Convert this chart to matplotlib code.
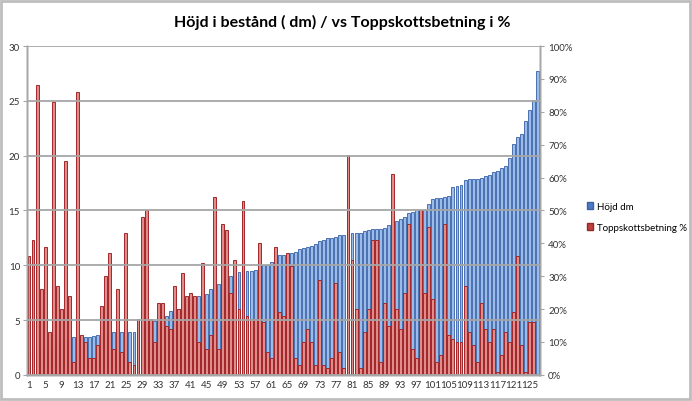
import matplotlib
matplotlib.use("Agg")
import matplotlib.pyplot as plt
from matplotlib.patches import Rectangle, Patch
from matplotlib.ticker import PercentFormatter

plt.rcParams['font.family'] = ['Lato', 'DejaVu Sans']

# löpnummer 1..127 (sorterat efter höjd)
lopnr = list(range(1, 128))

# Höjd i bestånd (dm), vänster axel
hojd_dm = [
    2.2, 2.2, 2.3, 2.3, 2.4, 2.5, 2.6, 3.0, 3.1, 3.2,
    3.3, 3.45, 3.5, 3.5, 3.5, 3.5, 3.55, 3.6, 3.7, 3.7,
    3.8, 3.9, 3.9, 3.95, 3.95, 3.95, 3.95, 4.2, 4.5, 4.8,
    4.95, 4.95, 5.0, 5.1, 5.4, 5.8, 5.9, 6.0, 6.3, 6.5,
    6.7, 7.0, 7.2, 7.3, 7.4, 7.8, 8.0, 8.3, 8.6, 8.7,
    9.05, 9.1, 9.4, 9.4, 9.45, 9.45, 9.6, 9.8, 10.0, 10.0,
    10.3, 10.5, 10.9, 10.9, 11.0, 11.1, 11.2, 11.5, 11.6, 11.7,
    11.8, 11.9, 12.2, 12.3, 12.5, 12.5, 12.6, 12.8, 12.8, 12.8,
    12.9, 12.9, 12.9, 13.1, 13.2, 13.3, 13.3, 13.3, 13.4, 13.7,
    14.0, 14.0, 14.2, 14.4, 14.8, 14.9, 15.0, 15.0, 15.0, 15.6,
    16.0, 16.1, 16.1, 16.2, 16.3, 17.1, 17.2, 17.3, 17.8, 17.9,
    17.9, 17.9, 18.0, 18.1, 18.2, 18.5, 18.6, 18.9, 19.1, 19.8,
    21.1, 21.7, 22.0, 23.2, 24.2, 25.1, 27.7,
]

# Toppskottsbetning (%), höger axel
betning = [
    36, 41, 88, 26, 39, 13, 83, 27, 20, 65,
    24, 4, 86, 12, 10, 5, 5, 9, 21, 30,
    37, 8, 26, 7, 43, 4, 3, 17, 48, 50,
    17, 10, 22, 22, 15, 14, 27, 20, 31, 24,
    25, 24, 10, 34, 8, 12, 54, 8, 46, 44,
    25, 35, 20, 53, 18, 17, 17, 40, 16, 7,
    5, 39, 19, 18, 37, 33, 5, 3, 10, 14,
    10, 3, 29, 3, 2, 5, 28, 7, 2, 67,
    35, 20, 2, 13, 20, 41, 41, 4, 22, 15,
    61, 20, 14, 25, 46, 8, 5, 50, 25, 45,
    23, 4, 6, 46, 12, 11, 10, 10, 27, 13,
    9, 4, 22, 14, 10, 14, 1, 6, 13, 10,
    19, 36, 9, 1, 16, 16, 0,
]

xtick_labels = list(range(1, 128, 4))

BLUE_FILL, BLUE_EDGE = "#9bbbe8", "#4a70b0"
RED_FILL, RED_EDGE = "#e08c8a", "#a3282a"
GRID = "#a6a6a6"
TXT = "#333333"

fig = plt.figure(figsize=(6.92, 4.02), dpi=100)
ax = fig.add_axes([0.039, 0.065, 0.741, 0.818])

ax.bar(lopnr, hojd_dm, width=0.72, color=BLUE_FILL, edgecolor=BLUE_EDGE, linewidth=0.7)
ax.set_xlim(0.5, 127.5)
ax.set_ylim(0, 30)
ax.set_yticks(range(0, 31, 5))
ax.set_xticks(xtick_labels)
ax.set_xticklabels([str(v) for v in xtick_labels])
ax.tick_params(axis='x', length=0, labelsize=7, colors=TXT, pad=4)
ax.tick_params(axis='y', length=3, color=GRID, labelsize=7, labelcolor=TXT, pad=2)

ax2 = ax.twinx()
ax2.bar(lopnr, betning, width=0.72, color=RED_FILL, edgecolor=RED_EDGE, linewidth=0.7)
ax2.set_ylim(0, 100)
ax2.set_yticks(range(0, 101, 10))
ax2.yaxis.set_major_formatter(PercentFormatter(decimals=0))
ax2.tick_params(axis='y', length=3, color=GRID, labelsize=7, labelcolor=TXT, pad=3)

# gridlines drawn over the bars, on the left scale
ax3 = ax.twinx()
ax3.set_ylim(0, 30)
ax3.set_yticks(range(0, 31, 5))
ax3.grid(axis='y', color=GRID, linewidth=1.3)
ax3.tick_params(right=False, labelright=False)

for a in (ax, ax2, ax3):
    a.spines['top'].set_visible(False)
    for s in ('left', 'right', 'bottom'):
        a.spines[s].set_color(GRID)
        a.spines[s].set_linewidth(1.0)

fig.text(0.495, 0.945, "Höjd i bestånd ( dm) / vs Toppskottsbetning i %",
         ha='center', va='center', fontsize=11.5, fontweight='bold', color='black')

handles = [Patch(facecolor="#4a7bc4", edgecolor="#3a62a0"),
           Patch(facecolor="#c0403c", edgecolor="#902a28")]
fig.legend(handles, ["Höjd dm", "Toppskottsbetning %"], loc='center left',
           bbox_to_anchor=(0.835, 0.458), frameon=False, fontsize=7,
           handlelength=0.7, handleheight=0.7, handletextpad=0.4, labelspacing=1.2)

fig.patches.append(Rectangle((0.002, 0.004), 0.995, 0.991, transform=fig.transFigure,
                             fill=False, edgecolor="#bdbdbd", linewidth=2))

fig.savefig("out.png", dpi=100)
